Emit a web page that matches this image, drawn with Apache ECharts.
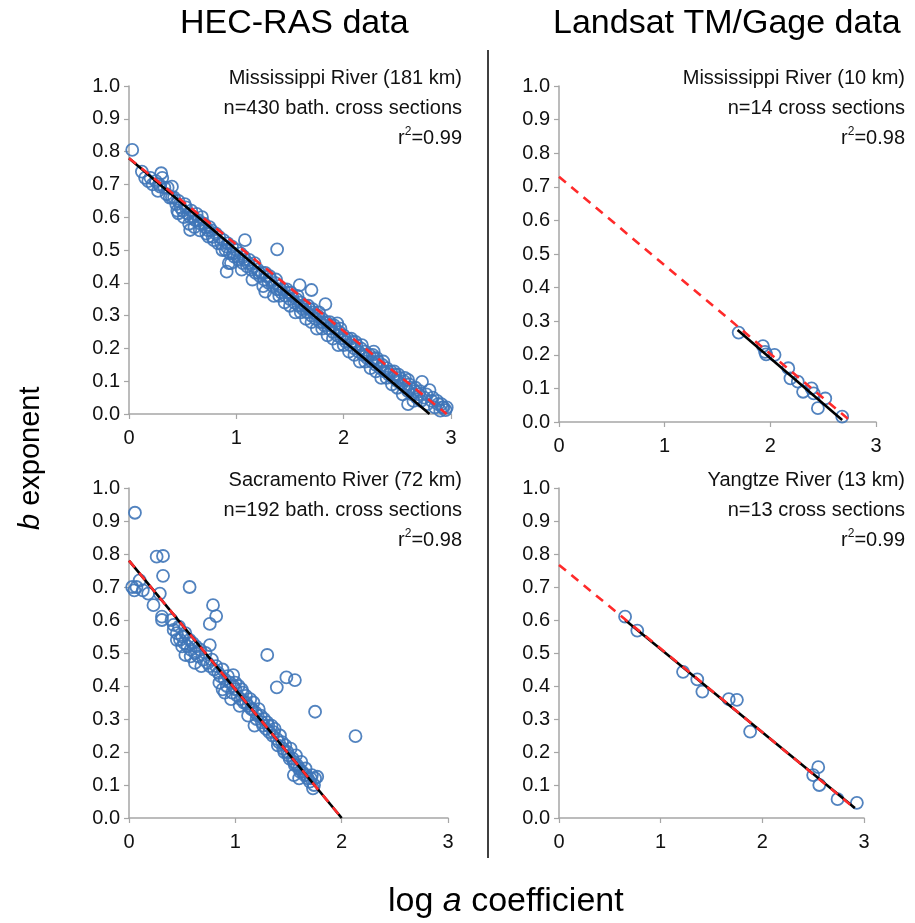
<!DOCTYPE html>
<html><head><meta charset="utf-8">
<script src="https://cdn.jsdelivr.net/npm/echarts@6/dist/echarts.min.js"></script>
<style>html,body{margin:0;padding:0;background:#fff}#c{width:915px;height:923px}</style>
</head><body><div id="c"></div>
<script>
// ---- data ----
const xTicks = [0, 1, 2, 3];
const yTicks = [0, 0.1, 0.2, 0.3, 0.4, 0.5, 0.6, 0.7, 0.8, 0.9, 1.0];

// Panel 1: HEC-RAS Mississippi River (181 km)
const missHecPoints = [
 [0.03,0.805],[0.12,0.739],[0.30,0.734],[0.31,0.72],[0.40,0.693],[0.29,0.693],[0.46,0.612],[0.57,0.561],
 [0.74,0.541],[0.91,0.434],[0.93,0.46],[1.08,0.53],[1.38,0.502],[1.27,0.373],[1.59,0.393],[1.70,0.378],
 [1.83,0.335],[1.94,0.276],[2.28,0.19],[2.60,0.104],[2.73,0.098],[2.80,0.073],[2.95,0.012],[2.92,0.02],
 [0.15,0.72],[0.18,0.71],[0.22,0.70],[0.25,0.71],[0.27,0.68],[0.33,0.69],[0.35,0.67],[0.38,0.66],[0.42,0.66],
 [0.44,0.64],[0.46,0.65],[0.48,0.63],[0.50,0.62],[0.51,0.60],[0.53,0.63],[0.55,0.61],[0.56,0.58],[0.58,0.62],
 [0.60,0.60],[0.61,0.57],[0.63,0.61],[0.65,0.59],[0.66,0.56],[0.68,0.60],[0.70,0.58],[0.72,0.55],[0.75,0.57],
 [0.77,0.56],[0.79,0.53],[0.81,0.55],[0.84,0.54],[0.86,0.52],[0.88,0.53],[0.90,0.50],[0.92,0.52],[0.94,0.49],
 [0.96,0.51],[0.98,0.48],[1.00,0.50],[1.02,0.47],[1.04,0.49],[1.06,0.46],[1.08,0.47],[1.10,0.45],[1.12,0.47],
 [1.14,0.44],[1.16,0.45],[1.18,0.43],[1.20,0.44],[1.22,0.42],[1.24,0.43],[1.26,0.41],[1.28,0.42],[1.30,0.40],
 [1.32,0.41],[1.34,0.39],[1.36,0.40],[1.38,0.38],[1.40,0.39],[1.42,0.37],[1.44,0.38],[1.46,0.36],[1.48,0.37],
 [1.50,0.35],[1.52,0.36],[1.54,0.34],[1.56,0.35],[1.58,0.33],[1.60,0.34],[1.62,0.32],[1.64,0.33],[1.66,0.31],
 [1.68,0.32],[1.70,0.30],[1.72,0.31],[1.74,0.29],[1.76,0.30],[1.78,0.28],[1.80,0.29],[1.82,0.27],[1.84,0.28],
 [1.86,0.26],[1.88,0.27],[1.90,0.25],[1.92,0.26],[1.94,0.24],[1.96,0.25],[1.98,0.23],[2.00,0.24],[2.02,0.22],
 [2.04,0.23],[2.06,0.21],[2.08,0.22],[2.10,0.20],[2.12,0.21],[2.14,0.19],[2.16,0.20],[2.18,0.18],[2.20,0.19],
 [2.22,0.17],[2.24,0.18],[2.26,0.16],[2.28,0.17],[2.30,0.15],[2.32,0.16],[2.34,0.14],[2.36,0.15],[2.38,0.13],
 [2.40,0.14],[2.42,0.12],[2.44,0.13],[2.46,0.11],[2.48,0.12],[2.50,0.10],[2.52,0.11],[2.54,0.09],[2.56,0.10],
 [2.58,0.08],[2.60,0.07],[2.62,0.08],[2.64,0.06],[2.66,0.07],[2.68,0.05],[2.70,0.06],[2.72,0.04],[2.75,0.05],
 [2.78,0.03],[2.82,0.04],[2.85,0.02],[2.88,0.03],[2.90,0.01],[2.93,0.02],
 [1.05,0.44],[1.25,0.39],[1.45,0.34],[1.65,0.29],[1.85,0.24],[2.05,0.19],[2.25,0.14],[2.45,0.09],[2.55,0.06],
 [2.35,0.11],[1.95,0.21],[1.75,0.26],[1.55,0.31],[1.35,0.36],[1.15,0.41],[0.95,0.46],[2.15,0.16],[2.65,0.04],[2.60,0.03],
 [0.20,0.72],[0.28,0.70],[0.36,0.69],[0.40,0.66],[0.45,0.62],[0.52,0.64],[0.57,0.60],[0.62,0.59],[0.67,0.58],
 [0.71,0.57],[0.74,0.56],[0.78,0.54],[0.83,0.52],[0.87,0.50],[0.91,0.51],[0.97,0.49],[1.01,0.48],[1.07,0.48],
 [1.11,0.46],[1.17,0.46],[1.21,0.43],[1.27,0.43],[1.31,0.42],[1.37,0.41],[1.41,0.38],[1.47,0.38],[1.51,0.37],
 [1.57,0.36],[1.61,0.33],[1.67,0.33],[1.71,0.32],[1.77,0.31],[1.81,0.28],[1.87,0.28],[1.91,0.27],[1.97,0.26],
 [2.01,0.23],[2.07,0.23],[2.11,0.22],[2.17,0.21],[2.21,0.18],[2.27,0.18],[2.31,0.17],[2.37,0.16],[2.41,0.13],
 [2.47,0.13],[2.51,0.12],[2.57,0.11],[2.61,0.09],[2.67,0.08],[2.71,0.07],[2.77,0.06],[2.83,0.05],[2.87,0.04],
 [2.91,0.03],[2.96,0.02],[2.40,0.11],[2.50,0.08],[2.30,0.13],[2.20,0.16],[2.10,0.18],[2.00,0.21],[1.90,0.23],
 [1.80,0.26],[1.70,0.28],[1.60,0.31],[1.50,0.33],[1.40,0.36]
];
const missHecFit = [[0, 0.78], [2.80, 0.0]];
const missHecRef = [[0, 0.78], [2.96, 0.0]];

// Panel 2: Landsat Mississippi River (10 km)
const missSatPoints = [
 [1.70,0.266],[1.93,0.226],[1.95,0.209],[1.96,0.201],[2.04,0.20],[2.17,0.160],[2.19,0.130],[2.26,0.120],
 [2.31,0.090],[2.39,0.100],[2.41,0.085],[2.52,0.070],[2.45,0.041],[2.68,0.016]
];
const missSatFit = [[1.69, 0.274], [2.68, 0.006]];
const missSatRef = [[0, 0.73], [2.77, 0.0]];

// Panel 3: HEC-RAS Sacramento River (72 km)
const sacPoints = [
 [0.056,0.925],[0.26,0.792],[0.32,0.794],[0.32,0.734],[0.07,0.70],[0.13,0.69],[0.05,0.69],[0.57,0.70],
 [0.29,0.68],[0.23,0.645],[0.31,0.61],[0.31,0.60],[0.79,0.645],[0.82,0.612],[0.76,0.588],[0.42,0.585],
 [0.76,0.524],[1.30,0.494],[1.48,0.426],[1.56,0.418],[1.39,0.396],[1.75,0.322],[2.13,0.248],[0.98,0.433],
 [0.53,0.494],[1.77,0.125],[0.10,0.72],[0.03,0.70],[0.18,0.68],
 [0.40,0.60],[0.42,0.57],[0.45,0.56],[0.47,0.58],[0.48,0.54],[0.50,0.55],[0.52,0.53],[0.53,0.56],[0.55,0.52],
 [0.57,0.54],[0.58,0.51],[0.60,0.53],[0.62,0.50],[0.63,0.52],[0.65,0.49],[0.67,0.51],[0.70,0.48],[0.72,0.50],
 [0.74,0.47],[0.76,0.46],[0.78,0.48],[0.80,0.45],[0.82,0.46],[0.84,0.44],[0.86,0.43],[0.88,0.45],[0.90,0.42],
 [0.92,0.40],[0.93,0.43],[0.95,0.41],[0.97,0.38],[0.98,0.40],[1.00,0.39],[1.02,0.37],[1.03,0.40],[1.05,0.36],
 [1.07,0.38],[1.08,0.35],[1.10,0.37],[1.12,0.34],[1.14,0.36],[1.15,0.33],[1.17,0.35],[1.19,0.32],[1.20,0.30],
 [1.22,0.33],[1.24,0.31],[1.25,0.29],[1.27,0.30],[1.29,0.27],[1.30,0.29],[1.32,0.26],[1.34,0.28],[1.35,0.25],
 [1.37,0.27],[1.39,0.24],[1.40,0.22],[1.42,0.25],[1.44,0.23],[1.45,0.21],[1.47,0.22],[1.49,0.20],[1.50,0.19],
 [1.52,0.21],[1.54,0.18],[1.55,0.17],[1.57,0.19],[1.58,0.16],[1.60,0.15],[1.62,0.17],[1.63,0.14],[1.65,0.13],
 [1.66,0.15],[1.68,0.12],[1.70,0.11],[1.72,0.13],[1.74,0.10],[1.75,0.12],[1.60,0.12],[1.55,0.13],
 [0.96,0.36],[1.04,0.34],[1.12,0.31],[0.88,0.39],[1.18,0.28],[0.68,0.46],
 [1.00,0.41],[1.06,0.39],[1.10,0.35],[1.16,0.33],[1.21,0.31],[1.26,0.28],[1.31,0.28],[1.36,0.26],[1.41,0.23],
 [1.46,0.20],[1.51,0.18],[1.56,0.16],[1.61,0.14],[1.67,0.13],[1.71,0.12],[1.73,0.09],[0.85,0.41],[0.90,0.38],
 [0.62,0.47],[0.50,0.52],[0.45,0.54],[0.58,0.49]
];
const sacFit = [[0, 0.78], [2.0, 0.0]];
const sacRef = [[0, 0.78], [2.0, 0.0]];

// Panel 4: Landsat Yangtze River (13 km)
const yangPoints = [
 [0.65,0.61],[0.77,0.568],[1.22,0.443],[1.36,0.42],[1.41,0.383],[1.67,0.36],[1.75,0.358],[1.88,0.262],
 [2.50,0.130],[2.55,0.154],[2.56,0.10],[2.74,0.057],[2.93,0.046]
];
const yangFit = [[0.65, 0.60], [2.91, 0.03]];
const yangRef = [[0, 0.767], [2.89, 0.034]];

const panelTexts = [
 ["Mississippi River (181 km)", "n=430 bath. cross sections", "0.99"],
 ["Mississippi River (10 km)", "n=14 cross sections", "0.98"],
 ["Sacramento River (72 km)", "n=192 bath. cross sections", "0.98"],
 ["Yangtze River (13 km)", "n=13 cross sections", "0.99"]
];

// ---- chart ----
const FONT = '"Liberation Sans", Arial, sans-serif';
const grids = [
 {left:129, top:86, width:322, height:328},
 {left:559, top:86, width:317, height:336},
 {left:129, top:488, width:319, height:330},
 {left:559, top:488, width:305, height:330}
];
const axisCommon = {
 axisLine:{show:true, lineStyle:{color:'#a6a6a6', width:1.5}},
 axisTick:{show:true, inside:false, length:5, lineStyle:{color:'#a6a6a6', width:1.2}},
 splitLine:{show:false},
 axisLabel:{color:'#111', fontSize:20, fontFamily:FONT}
};
const xAxes = grids.map((g,i)=>Object.assign({}, axisCommon, {
 type:'value', gridIndex:i, min:xTicks[0], max:xTicks[xTicks.length-1], interval:1,
 axisLabel:Object.assign({}, axisCommon.axisLabel, {margin:14})
}));
const yAxes = grids.map((g,i)=>Object.assign({}, axisCommon, {
 type:'value', gridIndex:i, min:yTicks[0], max:yTicks[yTicks.length-1], interval:0.1,
 axisLabel:Object.assign({}, axisCommon.axisLabel, {margin:9, formatter:v=>v.toFixed(1)})
}));

const pts = [missHecPoints, missSatPoints, sacPoints, yangPoints];
const fits = [missHecFit, missSatFit, sacFit, yangFit];
const refs = [missHecRef, missSatRef, sacRef, yangRef];
const series = [];
for (let i=0;i<4;i++){
 series.push({type:'scatter', xAxisIndex:i, yAxisIndex:i, data:pts[i], symbol:'circle', symbolSize:12,
   itemStyle:{color:'rgba(255,255,255,0)', borderColor:'#3f76b8', borderWidth:1.8, opacity:0.9}, z:2, silent:true});
 series.push({type:'line', xAxisIndex:i, yAxisIndex:i, data:fits[i], showSymbol:false, symbol:'none',
   lineStyle:{color:'#000', width:2.6}, z:3, silent:true});
 series.push({type:'line', xAxisIndex:i, yAxisIndex:i, data:refs[i], showSymbol:false, symbol:'none',
   lineStyle:{color:'#ff2a2a', width:2.6, type:[9,7]}, z:4, silent:true});
}

const textEls = [];
const rightEdges = [462, 905, 462, 905];
const topY = [80, 80, 482, 482];
panelTexts.forEach((t,i)=>{
 textEls.push({type:'text', right: 915-rightEdges[i], top: topY[i]-12, style:{text:t[0], font:'20px '+FONT, fill:'#111'}});
 textEls.push({type:'text', right: 915-rightEdges[i], top: topY[i]+18, style:{text:t[1], font:'20px '+FONT, fill:'#111'}});
 textEls.push({type:'text', right: 915-rightEdges[i], top: topY[i]+46, style:{
   text:'{r|r}{s|2}{r|=' + t[2] + '}', font:'20px '+FONT, fill:'#111',
   rich:{r:{fontSize:20, fontFamily:FONT, fill:'#111', verticalAlign:'bottom'}, s:{fontSize:12, fontFamily:FONT, fill:'#111', verticalAlign:'top', padding:[0,0,10,0]}}}});
});

const option = {
 animation:false,
 backgroundColor:'#fff',
 grid:grids,
 xAxis:xAxes,
 yAxis:yAxes,
 series:series,
 graphic:[
  {type:'text', left:180, top:7, style:{text:'HEC-RAS data', font:'34px '+FONT, fill:'#000'}},
  {type:'text', left:553, top:7, style:{text:'Landsat TM/Gage data', font:'34px '+FONT, fill:'#000'}},
  {type:'line', shape:{x1:488, y1:50, x2:488, y2:858}, style:{stroke:'#000', lineWidth:1.5}},
  {type:'text', x:16, y:530, rotation:Math.PI/2, style:{
     text:'{i|b}{n| exponent}', rich:{i:{font:'italic 29px '+FONT, fill:'#000'}, n:{font:'29px '+FONT, fill:'#000'}}}},
  {type:'text', left:388, top:885, style:{
     text:'{n|log }{i|a}{n| coefficient}', rich:{i:{font:'italic 34px '+FONT, fill:'#000'}, n:{font:'34px '+FONT, fill:'#000'}}}}
 ].concat(textEls)
};
const chart = echarts.init(document.getElementById('c'), null, {renderer:'canvas'});
chart.setOption(option);
</script></body></html>
